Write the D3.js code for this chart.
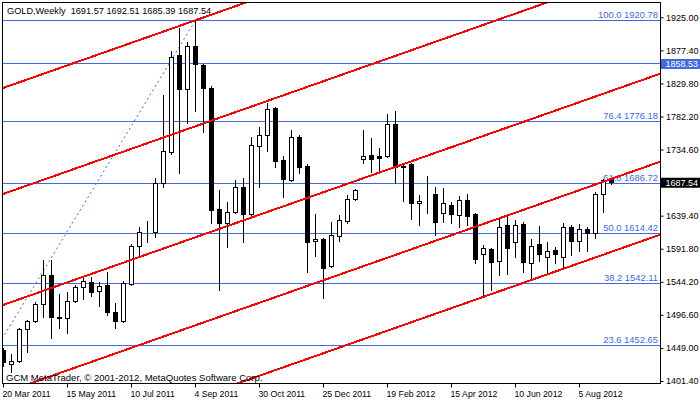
<!DOCTYPE html>
<html><head><meta charset="utf-8">
<script src="https://cdn.jsdelivr.net/npm/d3@7"></script>
<style>
html,body{margin:0;padding:0;background:#fff;}
svg{display:block;font-family:"Liberation Sans",Arial,sans-serif;}
text{white-space:pre;}
</style></head>
<body>
<script>
// ---- Weekly GOLD candles, index 0 = 20 Mar 2011 ----
const opens  = [1446.0,1425.8,1430.2,1476.2,1487.7,1512.2,1554.0,1493.5,1492.1,1516.6,
                1536.7,1543.9,1531.0,1539.6,1500.7,1487.8,1541.0,1595.7,1615.9,1615.9,
                1686.4,1731.1,1870.7,1821.8,1883.7,1856.3,1823.2,1649.0,1628.8,1644.7,
                1680.7,1641.8,1739.7,1755.5,1794.4,1719.5,1690.8,1752.7,1710.9,1602.9,
                1605.8,1566.9,1610.1,1631.7,1663.4,1721.0,1726.7,1725.3,1725.3,1771.4,
                1709.5,1713.8,1657.6,1667.7,1670.6,1643.2,1654.8,1640.4,1662.0,1641.8,
                1584.2,1591.4,1574.1,1626.0,1601.5,1627.4,1571.3,1598.6,1579.9,1590.0,
                1579.9,1623.1,1602.9,1620.2,1614.4,1670.6,1691.57];
const highs  = [1448.9,1440.2,1478.0,1489.2,1515.1,1575.6,1575.6,1526.6,1529.5,1539.6,
                1551.1,1551.1,1543.9,1558.3,1513.7,1545.3,1598.6,1623.1,1631.7,1693.6,
                1813.1,1876.5,1909.6,1889.4,1920.78,1858.0,1826.1,1676.4,1659.1,1690.8,
                1693.6,1752.7,1767.1,1801.6,1796.0,1725.3,1762.7,1755.5,1713.8,1641.8,
                1607.0,1630.3,1640.4,1669.2,1677.8,1762.7,1751.2,1736.8,1785.8,1790.1,
                1712.4,1715.0,1669.2,1696.5,1680.7,1679.2,1659.1,1667.7,1670.6,1643.2,
                1597.2,1592.9,1637.5,1637.5,1633.2,1630.3,1605.8,1624.5,1601.5,1594.3,
                1628.8,1626.0,1627.4,1623.1,1673.5,1692.2,1692.51];
const lows   = [1423.0,1414.3,1428.7,1443.1,1486.3,1493.5,1463.3,1477.7,1470.5,1515.1,
                1519.4,1523.7,1509.4,1496.4,1477.7,1486.0,1539.6,1579.9,1601.5,1608.7,
                1680.7,1728.2,1700.8,1772.8,1790.1,1759.9,1628.8,1532.4,1594.3,1643.2,
                1601.5,1636.0,1680.7,1732.5,1709.5,1666.3,1689.3,1700.8,1558.3,1581.3,
                1520.9,1565.5,1602.9,1628.8,1662.0,1715.2,1702.3,1703.7,1724.0,1686.4,
                1660.5,1634.6,1626.0,1643.2,1611.6,1630.3,1628.8,1623.1,1626.0,1571.3,
                1525.2,1532.4,1554.0,1555.4,1579.9,1558.3,1549.7,1574.1,1556.9,1571.3,
                1564.1,1582.8,1588.5,1588.5,1607.3,1644.7,1685.39];
const closes = [1428.7,1430.2,1476.2,1487.7,1512.2,1554.0,1493.5,1492.1,1516.6,1536.7,
                1545.3,1529.5,1538.1,1500.7,1487.8,1542.5,1595.7,1615.9,1616.5,1686.4,
                1732.5,1867.8,1821.8,1883.7,1857.8,1823.2,1647.6,1628.8,1644.7,1680.7,
                1641.8,1741.1,1755.5,1793.0,1718.1,1692.2,1752.7,1709.5,1601.5,1605.8,
                1564.1,1611.6,1633.2,1663.4,1676.4,1725.3,1721.0,1722.4,1771.4,1709.5,
                1710.9,1657.6,1660.5,1668.2,1630.3,1657.6,1641.8,1662.0,1638.9,1577.0,
                1592.9,1572.7,1623.1,1592.9,1626.0,1572.7,1595.7,1584.2,1588.5,1584.2,
                1623.1,1602.9,1620.2,1614.4,1670.6,1691.0,1687.54];

const dateTickIndex = [0,8,16,24,32,40,48,56,64,72];
const dateTickLabels = ["20 Mar 2011","15 May 2011","10 Jul 2011","4 Sep 2011","30 Oct 2011",
                        "25 Dec 2011","19 Feb 2012","15 Apr 2012","10 Jun 2012","5 Aug 2012"];
const priceTicks = [1401.40,1449.00,1496.60,1544.20,1591.80,1639.40,1687.00,1734.60,1782.20,1829.80,1877.40,1925.00];

const fibLevels = ["100.0","76.4","61.8","50.0","38.2","23.6"];
const fibPrices = [1920.78,1776.18,1686.72,1614.42,1542.11,1452.65];
const fibTrendIdx = [-8.3, 24];
const fibTrendPrice = [1308.06, 1920.78];

const hLinePrice = 1858.53;
const lastPrice = 1687.54;
const titleText = "GOLD,Weekly  1691.57 1692.51 1685.39 1687.54";
const copyrightText = "GCM MetaTrader, \u00A9 2001-2012, MetaQuotes Software Corp.";

// red channel lines: price at index -1 and index 83
const channelIdx = [-1, 83];
const channelStart = [1819.4,1666.8,1507.0,1380.3,1275.2];
const channelEnd   = [2159.9,2007.4,1847.5,1720.8,1615.8];

// ---- layout ----
const W=700,H=402, L=2.5, R=660.5, T=2.5, B=383.5;
const svg = d3.select("body").append("svg").attr("width",W).attr("height",H);
const x = d3.scaleLinear().domain([0,82]).range([3.5,659.5]);
const y = d3.scaleLinear().domain([1401.4,1925]).range([381,17.3]);
const BLUE = "#4169E1";

svg.append("defs").append("clipPath").attr("id","plot")
  .append("rect").attr("x",L).attr("y",T).attr("width",R-L).attr("height",B-T);
const g = svg.append("g").attr("clip-path","url(#plot)");

// fib horizontal levels
fibPrices.forEach((p,i)=>{
  const yy = Math.round(y(p))+0.5;
  g.append("line").attr("x1",L).attr("x2",R).attr("y1",yy).attr("y2",yy)
    .attr("stroke",BLUE).attr("stroke-width",1);
  g.append("text").attr("x",658).attr("y",yy-2.5).attr("text-anchor","end")
    .attr("font-size",9.4).attr("fill",BLUE).text(fibLevels[i]+" "+p.toFixed(2));
});
// horizontal line
{
  const yy = Math.round(y(hLinePrice))+0.5;
  g.append("line").attr("x1",L).attr("x2",R).attr("y1",yy).attr("y2",yy)
    .attr("stroke",BLUE).attr("stroke-width",1);
}
// fib trend dotted
g.append("line")
  .attr("x1",x(fibTrendIdx[0])).attr("y1",y(fibTrendPrice[0]))
  .attr("x2",x(fibTrendIdx[1])).attr("y2",y(fibTrendPrice[1]))
  .attr("stroke",BLUE).attr("stroke-width",1).attr("stroke-dasharray","2,3");

// candles
const idx = d3.range(opens.length);
const cg = g.append("g");
idx.forEach(i=>{
  const o=opens[i],h=highs[i],l=lows[i],c=closes[i];
  const cx = x(i);
  cg.append("line").attr("x1",cx).attr("x2",cx)
    .attr("y1",Math.round(y(h))).attr("y2",Math.round(y(l))+1)
    .attr("stroke","#000").attr("stroke-width",1);
  const top = Math.round(y(Math.max(o,c))), bot = Math.round(y(Math.min(o,c)));
  if (c>=o){
    cg.append("rect").attr("x",cx-2).attr("y",top+0.5).attr("width",4)
      .attr("height",Math.max(bot-top,0)).attr("fill","#fff").attr("stroke","#000").attr("stroke-width",1);
  } else {
    cg.append("rect").attr("x",cx-2.5).attr("y",top).attr("width",5)
      .attr("height",Math.max(bot-top,0)+1).attr("fill","#000");
  }
});

// red channel lines
channelStart.forEach((p0,k)=>{
  g.append("line")
    .attr("x1",x(channelIdx[0])).attr("y1",y(p0))
    .attr("x2",x(channelIdx[1])).attr("y2",y(channelEnd[k]))
    .attr("stroke","#ff0000").attr("stroke-width",2).attr("shape-rendering","crispEdges");
});

// texts inside plot
svg.append("text").attr("x",7).attr("y",14).attr("font-size",9.2).attr("fill","#000").text(titleText);
svg.append("text").attr("x",6).attr("y",380.5).attr("font-size",9.5).attr("fill","#000").text(copyrightText);

// frame
svg.append("rect").attr("x",L).attr("y",T).attr("width",R-L).attr("height",B-T)
  .attr("fill","none").attr("stroke","#000").attr("stroke-width",1);

// y axis
const yAxis = d3.axisRight(y).tickValues(priceTicks).tickSize(3).tickPadding(2.5)
  .tickFormat(d3.format(".2f"));
const ya = svg.append("g").attr("transform",`translate(${R},0)`).call(yAxis);
ya.select(".domain").remove();
ya.selectAll("text").attr("font-size",9).attr("font-family","Liberation Sans, Arial, sans-serif").attr("fill","#000");
ya.selectAll("line").attr("stroke","#000");

// x axis
const xAxisScale = x.copy().range([3,659]);
const xAxis = d3.axisBottom(xAxisScale).tickValues(dateTickIndex).tickSize(4).tickPadding(3)
  .tickFormat((d,i)=>dateTickLabels[i]);
const xa = svg.append("g").attr("transform",`translate(0,${B})`).call(xAxis);
xa.select(".domain").remove();
xa.selectAll("text").attr("text-anchor","start").attr("x",-1).attr("font-size",8.7)
  .attr("font-family","Liberation Sans, Arial, sans-serif").attr("fill","#000");
xa.selectAll("line").attr("stroke","#000");

// price labels on axis
function priceBox(p, fill){
  const yc = y(p);
  svg.append("rect").attr("x",661).attr("y",yc-4.5).attr("width",39).attr("height",10).attr("fill",fill);
  svg.append("text").attr("x",665.5).attr("y",yc+3.7).attr("font-size",9).attr("fill","#fff").text(p.toFixed(2));
}
priceBox(hLinePrice, BLUE);
priceBox(lastPrice, "#000");
</script>
</body></html>
